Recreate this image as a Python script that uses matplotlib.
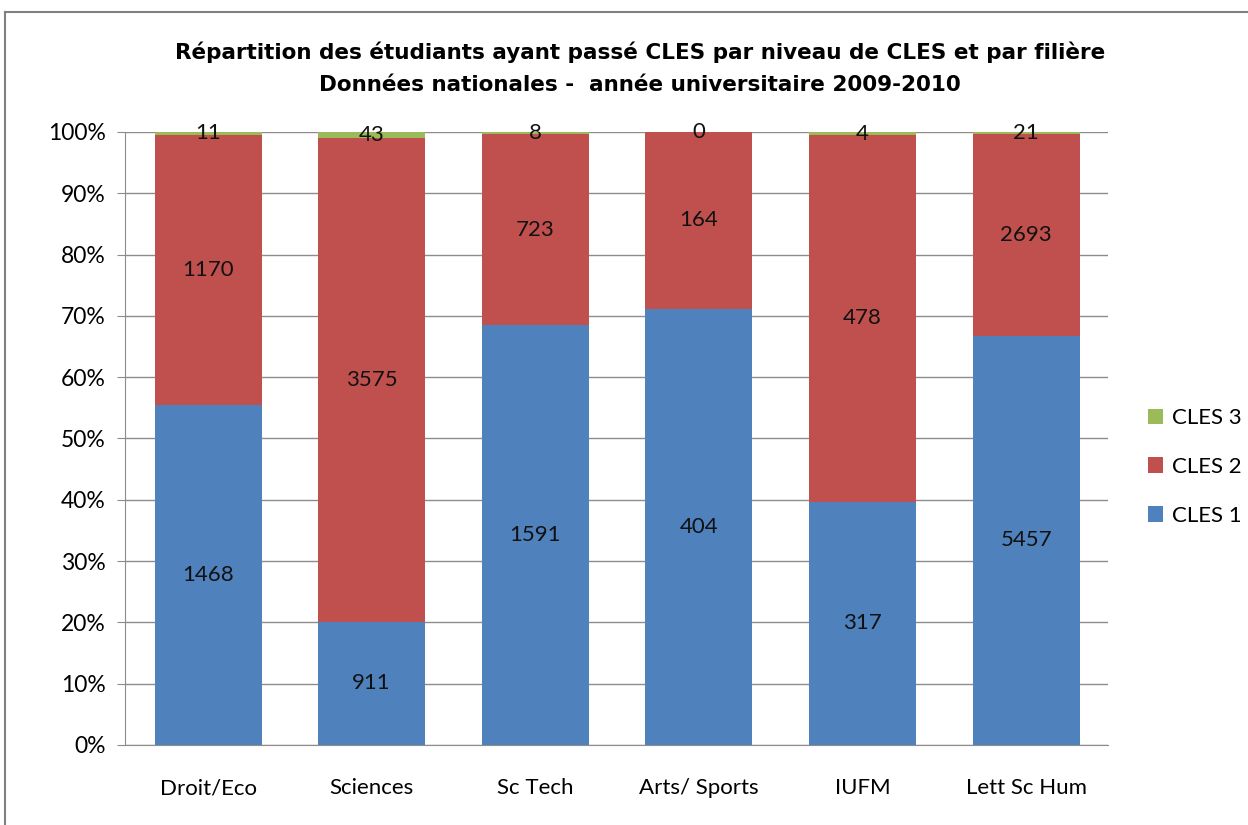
import numpy as np
import matplotlib.pyplot as plt
from matplotlib.lines import Line2D
from matplotlib.ticker import PercentFormatter

categories = ['Droit/Eco', 'Sciences', 'Sc Tech', 'Arts/ Sports', 'IUFM', 'Lett Sc Hum']
cles1 = [1468, 911, 1591, 404, 317, 5457]
cles2 = [1170, 3575, 723, 164, 478, 2693]
cles3 = [11, 43, 8, 0, 4, 21]
series = [('CLES 1', cles1, '#4F81BD'), ('CLES 2', cles2, '#C0504D'), ('CLES 3', cles3, '#9BBB59')]

plt.rcParams['font.family'] = ['Lato', 'DejaVu Sans']

tot = np.array(cles1) + np.array(cles2) + np.array(cles3)
x = np.arange(len(categories))

fig = plt.figure(figsize=(12.48, 8.25), dpi=100)
ax = fig.add_axes([0.1002, 0.097, 0.7876, 0.743])

bottom = np.zeros(len(categories))
handles = []
for name, vals, col in series:
    pct = np.array(vals) / tot * 100
    b = ax.bar(x, pct, 0.654, bottom=bottom, color=col, label=name, zorder=2)
    handles.append(b)
    for xi, v, p, b0 in zip(x, vals, pct, bottom):
        ax.text(xi, b0 + p / 2, str(v), ha='center', va='center', fontsize=16, color='#111111', zorder=3)
    bottom += pct

ax.set_xlim(-0.507, 5.5)
ax.set_ylim(0, 100)
ax.set_yticks(np.arange(0, 101, 10))
ax.yaxis.set_major_formatter(PercentFormatter(decimals=0))
ax.set_xticks(x)
ax.set_xticklabels(categories)
ax.grid(axis='y', color='#8c8c8c', lw=1, zorder=0)
for s in ['top', 'right']:
    ax.spines[s].set_visible(False)
for s in ['left', 'bottom']:
    ax.spines[s].set_color('#8c8c8c')
ax.tick_params(axis='y', length=6, color='#8c8c8c', labelsize=16.5, pad=8)
ax.tick_params(axis='x', length=0, labelsize=16, pad=24)

leg = ax.legend(handles[::-1], ['CLES 3', 'CLES 2', 'CLES 1'], loc='center left',
                bbox_to_anchor=(1.02, 0.4535), frameon=False, fontsize=16,
                handlelength=0.7, handleheight=0.7, handletextpad=0.4, labelspacing=1.3)

title_font = ['DejaVu Sans']
fig.text(0.513, 0.937, 'Répartition des étudiants ayant passé CLES par niveau de CLES et par filière',
         ha='center', va='center', fontsize=15.5, fontweight='bold', family=title_font)
fig.text(0.513, 0.897, 'Données nationales -  année universitaire 2009-2010',
         ha='center', va='center', fontsize=15.5, fontweight='bold', family=title_font)

fig.add_artist(Line2D([5 / 1248, 5 / 1248], [0, 1 - 12 / 825], transform=fig.transFigure, color='#808080', lw=1.5))
fig.add_artist(Line2D([5 / 1248, 1], [1 - 12 / 825, 1 - 12 / 825], transform=fig.transFigure, color='#808080', lw=1.5))

fig.savefig('out.png', dpi=100)
